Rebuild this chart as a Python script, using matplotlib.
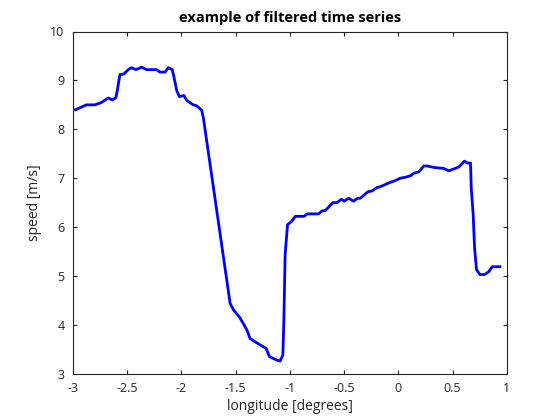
import matplotlib
matplotlib.use("Agg")
import matplotlib.pyplot as plt

lon = [-2.975, -2.935, -2.874, -2.797, -2.735, -2.674, -2.633, -2.603, -2.59, -2.566,
       -2.529, -2.489, -2.458, -2.418, -2.366, -2.32, -2.227, -2.197, -2.15, -2.12,
       -2.083, -2.067, -2.042, -2.018, -1.975, -1.95, -1.889, -1.858, -1.812, -1.797,
       -1.55, -1.52, -1.458, -1.396, -1.366, -1.273, -1.218, -1.187, -1.119, -1.09,
       -1.064, -1.055, -1.043, -1.021, -0.981, -0.95, -0.867, -0.842, -0.735, -0.704,
       -0.673, -0.602, -0.565, -0.525, -0.498, -0.458, -0.412, -0.375, -0.35, -0.282,
       -0.242, -0.196, -0.15, -0.103, -0.042, 0.019, 0.066, 0.112, 0.142, 0.188,
       0.235, 0.266, 0.327, 0.419, 0.466, 0.512, 0.558, 0.589, 0.61, 0.635,
       0.666, 0.672, 0.69, 0.703, 0.721, 0.752, 0.795, 0.835, 0.866, 0.937]
speed = [8.40, 8.44, 8.50, 8.50, 8.55, 8.64, 8.60, 8.65, 8.79, 9.12,
         9.13, 9.22, 9.26, 9.22, 9.27, 9.22, 9.22, 9.17, 9.17, 9.26,
         9.22, 9.06, 8.79, 8.67, 8.69, 8.59, 8.50, 8.48, 8.39, 8.24,
         4.44, 4.31, 4.14, 3.90, 3.72, 3.59, 3.52, 3.35, 3.28, 3.26,
         3.38, 4.07, 5.44, 6.05, 6.12, 6.22, 6.22, 6.27, 6.27, 6.33,
         6.34, 6.50, 6.50, 6.57, 6.53, 6.59, 6.53, 6.59, 6.59, 6.72,
         6.74, 6.81, 6.84, 6.89, 6.94, 7.00, 7.02, 7.05, 7.10, 7.13,
         7.25, 7.25, 7.22, 7.20, 7.15, 7.19, 7.23, 7.30, 7.35, 7.31,
         7.31, 6.81, 6.26, 5.57, 5.13, 5.03, 5.03, 5.09, 5.19, 5.19]

xticks = [-3, -2.5, -2, -1.5, -1, -0.5, 0, 0.5, 1]
xticklabels = ["-3", "-2.5", "-2", "-1.5", "-1", "-0.5", "0", "0.5", "1"]
yticks = [3, 4, 5, 6, 7, 8, 9, 10]

plt.rcParams['font.family'] = ['Open Sans', 'Noto Sans', 'DejaVu Sans']
fig = plt.figure(figsize=(5.6, 4.2), dpi=100)
ax = fig.add_axes([0.13, 0.11, 0.775, 0.815])
ax.plot(lon, speed, color=(0, 0, 1), linewidth=2.0)
ax.set_xlim(-3, 1)
ax.set_ylim(3, 10)
ax.set_xticks(xticks)
ax.set_xticklabels(xticklabels)
ax.set_yticks(yticks)
axc = (0.15, 0.15, 0.15)
for s in ax.spines.values():
    s.set_color(axc)
    s.set_linewidth(0.8)
ax.tick_params(direction='in', length=3, width=0.8, colors=axc, labelsize=9,
               top=True, right=True, pad=6)
ax.set_xlabel("longitude [degrees]", fontsize=10, color=axc, labelpad=3)
ax.set_ylabel("speed [m/s]", fontsize=10, color=axc, labelpad=6)
ax.set_title("example of filtered time series", fontsize=10.5, fontweight='bold', pad=7)
fig.savefig("out.png", dpi=100)
